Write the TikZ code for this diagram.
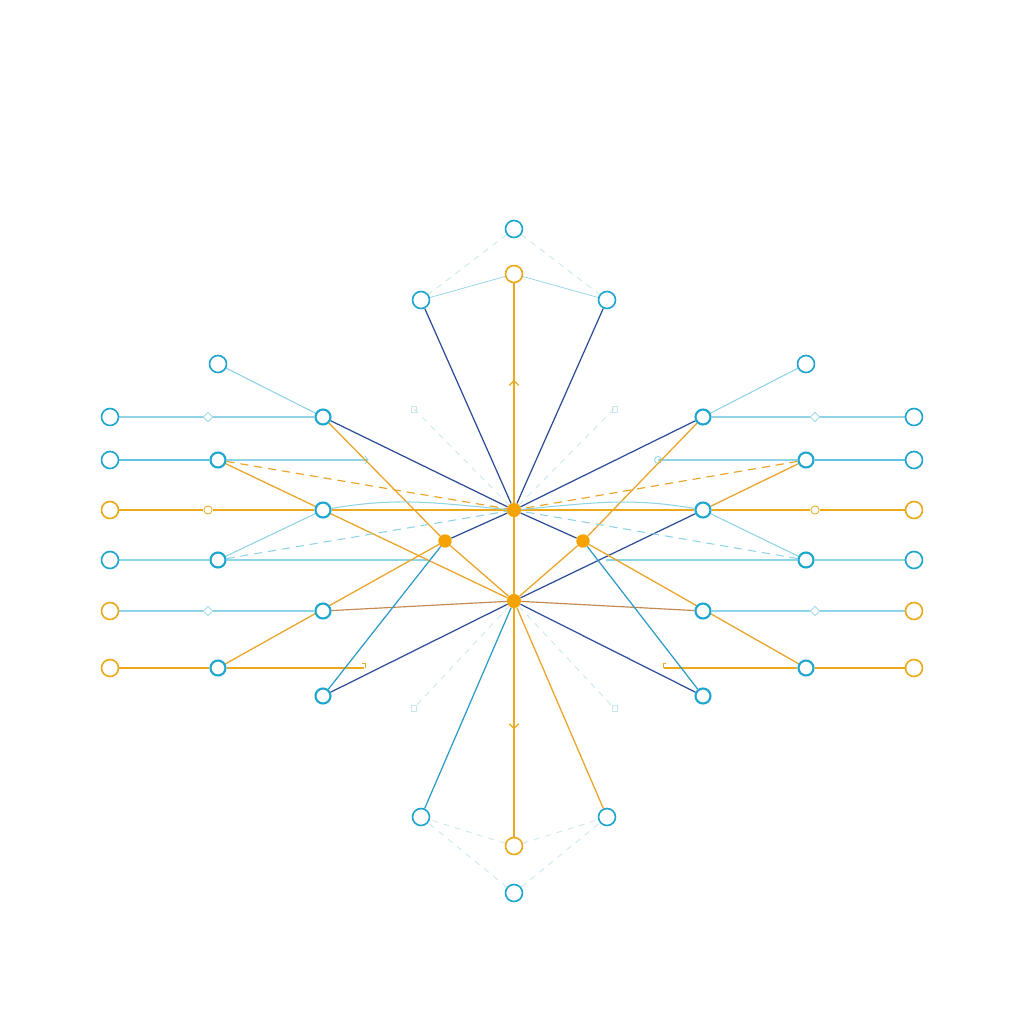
\documentclass[tikz,border=0pt]{standalone}
\usetikzlibrary{arrows.meta,decorations.markings,shapes.geometric}
\pgfdeclarelayer{back}
\pgfdeclarelayer{bg}
\pgfsetlayers{back,bg,main}
\definecolor{cblue}{HTML}{1FA6CF}
\definecolor{cyel}{HTML}{EBAA1E}
\definecolor{corg}{HTML}{F5A300}
\definecolor{dblue}{HTML}{2D4C98}
\definecolor{teal}{HTML}{2B9AC6}
\definecolor{lblue}{HTML}{8FD3E6}
\definecolor{mblue}{HTML}{5EC2E0}
\definecolor{olin}{HTML}{EAA52A}
\definecolor{brn}{HTML}{C48A52}
\definecolor{faint}{HTML}{C9E6EE}
\tikzset{
  bc/.style={circle,draw=cblue,line width=1.4pt,fill=white,minimum size=14.5pt,inner sep=0pt},
  bci/.style={circle,draw=cblue,line width=1.8pt,fill=white,minimum size=12.8pt,inner sep=0pt},
  yc/.style={circle,draw=cyel,line width=1.4pt,fill=white,minimum size=14.5pt,inner sep=0pt},
  hub/.style={circle,fill=corg,minimum size=12pt,inner sep=0pt},
  hubs/.style={circle,fill=corg,minimum size=11.5pt,inner sep=0pt},
  dmd/.style={diamond,draw=lblue,line width=0.6pt,fill=white,minimum size=8pt,inner sep=0pt},
  ysm/.style={circle,draw=cyel,line width=0.7pt,fill=white,minimum size=7pt,inner sep=0pt},
  lb/.style={draw=lblue,line width=0.9pt},
  mb/.style={draw=mblue,line width=1.0pt},
  db/.style={draw=dblue,line width=1.05pt},
  tl/.style={draw=teal,line width=1.05pt},
  ol/.style={draw=olin,line width=1.1pt},
  bl/.style={draw=brn,line width=1.0pt},
  yl/.style={draw=cyel,line width=1.2pt},
  fd/.style={draw=faint,line width=0.7pt,dash pattern=on 5pt off 5pt},
  ld/.style={draw=lblue,line width=0.9pt,dash pattern=on 7pt off 5pt},
  od/.style={draw=olin,line width=1.0pt,dash pattern=on 7pt off 5pt},
  midup/.style={postaction={decorate},decoration={markings,mark=at position #1 with {\arrow{Straight Barb[length=4pt,width=8pt,color=cyel,line width=1pt]}}}}
}
\begin{document}
\begin{tikzpicture}[x=0.3mm,y=-0.3mm]
\begin{pgfonlayer}{back}
\fill[white] (0,0) rectangle (1024,1024);
\end{pgfonlayer}
\useasboundingbox (0,0) rectangle (1024,1024);
% top
\node[bc] (T1) at (514,229) {};
\node[yc] (T2) at (514,274) {};
\node[bc] (TL) at (421,300) {};
\node[bc] (TR) at (607,300) {};
% hubs
\node[hub] (C1) at (514,510) {};
\node[hub] (C2) at (514,601) {};
\node[hubs] (L) at (445,541) {};
\node[hubs] (R) at (583,541) {};
% bottom
\node[bc] (BL) at (421,817) {};
\node[bc] (BR) at (607,817) {};
\node[yc] (B2n) at (514,846) {};
\node[bc] (B1n) at (514,893) {};
% outer columns
\node[bc] (o1) at (110,417) {};
\node[bc] (o2) at (110,460) {};
\node[yc] (o3) at (110,510) {};
\node[bc] (o4) at (110,560) {};
\node[yc] (o5) at (110,611) {};
\node[yc] (o6) at (110,668) {};
\node[bc] (p1) at (914,417) {};
\node[bc] (p2) at (914,460) {};
\node[yc] (p3) at (914,510) {};
\node[bc] (p4) at (914,560) {};
\node[yc] (p5) at (914,611) {};
\node[yc] (p6) at (914,668) {};
% inner left
\node[bc] (a0) at (218,364) {};
\node[bci] (a1) at (218,460) {};
\node[bci] (a2) at (218,560) {};
\node[bci] (a3) at (218,668) {};
\node[bci] (b1) at (323,417) {};
\node[bci] (b2) at (323,510) {};
\node[bci] (b3) at (323,611) {};
\node[bci] (b4) at (323,696) {};
% inner right
\node[bc] (A0) at (806,364) {};
\node[bci] (A1) at (806,460) {};
\node[bci] (A2) at (806,560) {};
\node[bci] (A3) at (806,668) {};
\node[bci] (Bb1) at (703,417) {};
\node[bci] (Bb2) at (703,510) {};
\node[bci] (Bb3) at (703,611) {};
\node[bci] (Bb4) at (703,696) {};
% small markers
\node[dmd] (m1) at (208,417) {};
\node[ysm] (m2) at (208,510) {};
\node[dmd] (m3) at (208,611) {};
\node[dmd] (M1) at (815,417) {};
\node[ysm] (M2) at (815,510) {};
\node[dmd] (M3) at (815,611) {};
\coordinate (e1) at (368,460);
\coordinate (e2) at (364,668);
\coordinate (E1) at (658,460);
\coordinate (E2) at (664,668);
\coordinate (f1) at (428,560);
\coordinate (F1) at (606,560);
\coordinate (g1) at (414,409);
\coordinate (g2) at (614,409);
\coordinate (g3) at (414,708);
\coordinate (g4) at (614,708);
\begin{pgfonlayer}{bg}
% horizontals left
\draw[lb] (o1) -- (m1) -- (b1);
\draw[mb] (o2) -- (a1);
\draw[lb] (a1) -- (e1);
\draw[yl] (o3) -- (m2) -- (b2);
\draw[yl] (b2) -- (C1) -- (Bb2);
\draw[yl] (Bb2) -- (M2) -- (p3);
\draw[lb] (o4) -- (a2);
\draw[lb] (a2) -- (f1);
\draw[lb] (o5) -- (m3) -- (b3);
\draw[yl] (o6) -- (a3);
\draw[yl] (a3) -- (e2);
% horizontals right
\draw[lb] (Bb1) -- (M1) -- (p1);
\draw[lb] (E1) -- (A1);
\draw[mb] (A1) -- (p2);
\draw[lb] (F1) -- (A2);
\draw[lb] (A2) -- (p4);
\draw[lb] (Bb3) -- (M3) -- (p5);
\draw[yl] (E2) -- (A3);
\draw[yl] (A3) -- (p6);
% small end marks
\draw[lblue,line width=0.7pt] (e1) ++(-3,-4) -- ++(3,4) -- ++(-3,4);
\draw[cyel,line width=0.7pt] (e2) ++(-2,-5) -- ++(3,0) -- ++(0,5);
\draw[lblue,line width=0.7pt] (E1) circle (3.5);
\draw[cyel,line width=0.7pt] (E2) ++(2,-5) -- ++(-3,0) -- ++(0,5);
% diagonals
\draw[lb] (a0) -- (b1);
\draw[lb] (A0) -- (Bb1);
\draw[db] (b1) -- (C1);
\draw[db] (Bb1) -- (C1);
\draw[ol] (b1) -- (L);
\draw[ol] (L) -- (C2);
\draw[ol] (Bb1) -- (R);
\draw[ol] (R) -- (C2);
\draw[ol] (a1) -- (C2);
\draw[ol] (A1) -- (Bb2);
\draw[db] (Bb2) -- (C2);
\draw[od] (a1) -- (C1);
\draw[od] (A1) -- (C1);
\draw[ld] (a2) -- (C1);
\draw[ld] (A2) -- (C1);
\draw[lb] (a2) -- (b2);
\draw[lb] (A2) -- (Bb2);
\draw[lb] (b2) to[out=10,in=175] (C1);
\draw[lb] (Bb2) to[out=170,in=5] (C1);
\draw[ol] (a3) -- (L);
\draw[ol] (A3) -- (R);
\draw[bl] (b3) -- (C2);
\draw[bl] (Bb3) -- (C2);
\draw[tl] (b4) -- (L);
\draw[tl] (Bb4) -- (R);
\draw[db] (b4) -- (C2);
\draw[db] (Bb4) -- (C2);
\draw[db] (L) -- (C1);
\draw[db] (R) -- (C1);
% vertical spine
\draw[db] (C1) -- (TL);
\draw[db] (C1) -- (TR);
\draw[yl,midup=0.56] (C1) -- (T2);
\draw[yl] (C1) -- (C2);
\draw[yl,midup=0.53] (C2) -- (B2n);
\draw[lb,line width=0.6pt] (T2) -- (TL);
\draw[lb,line width=0.6pt] (T2) -- (TR);
\draw[fd] (T1) -- (TL);
\draw[fd] (T1) -- (TR);
\draw[tl] (C2) -- (BL);
\draw[ol] (C2) -- (BR);
\draw[fd] (B2n) -- (BL);
\draw[fd] (B2n) -- (BR);
\draw[fd] (B1n) -- (BL);
\draw[fd] (B1n) -- (BR);
% faint diagonals
\draw[fd] (C1) -- (g1);
\draw[fd] (C1) -- (g2);
\draw[fd] (C2) -- (g3);
\draw[fd] (C2) -- (g4);
\draw[faint,line width=0.7pt] (g1) ++(-3,-3) rectangle ++(5,6);
\draw[faint,line width=0.7pt] (g2) ++(-2,-3) rectangle ++(5,6);
\draw[faint,line width=0.7pt] (g3) ++(-3,-3) rectangle ++(5,6);
\draw[faint,line width=0.7pt] (g4) ++(-2,-3) rectangle ++(5,6);
\end{pgfonlayer}
\end{tikzpicture}
\end{document}
